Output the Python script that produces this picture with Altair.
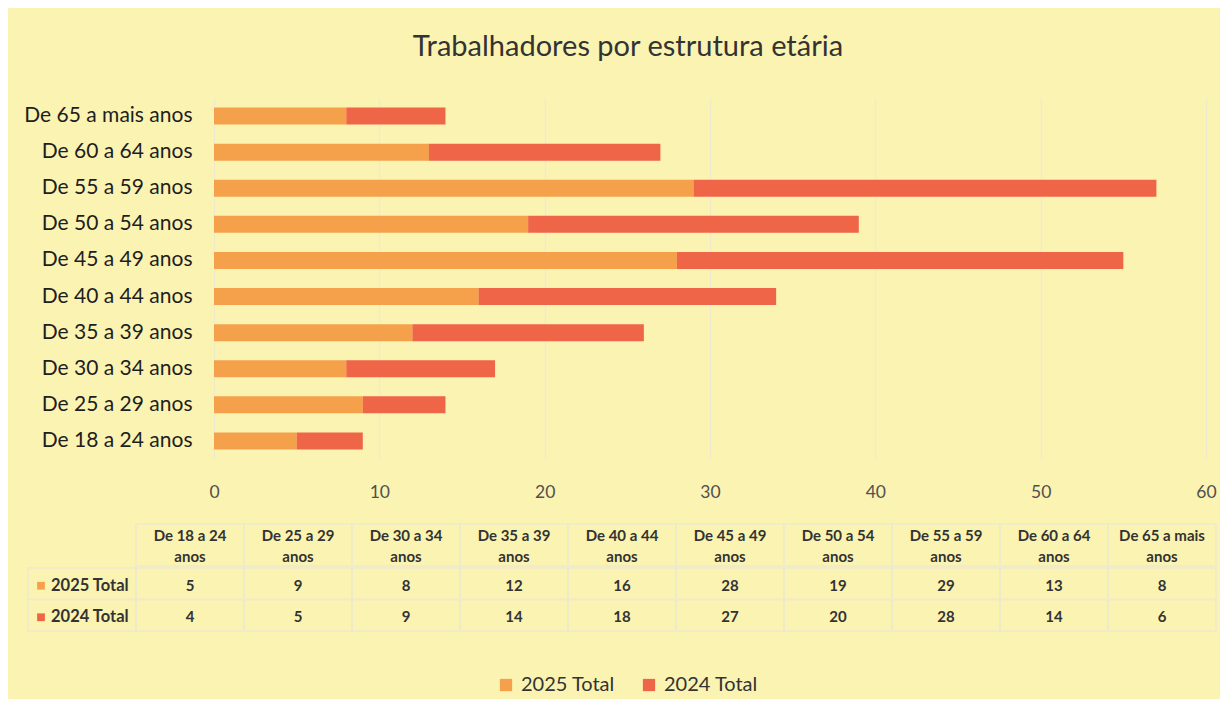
import altair as alt
import pandas as pd

# ---- data ----
categories = [
    "De 18 a 24 anos", "De 25 a 29 anos", "De 30 a 34 anos", "De 35 a 39 anos",
    "De 40 a 44 anos", "De 45 a 49 anos", "De 50 a 54 anos", "De 55 a 59 anos",
    "De 60 a 64 anos", "De 65 a mais anos",
]
series_names = ["2025 Total", "2024 Total"]
values_2025 = [5, 9, 8, 12, 16, 28, 19, 29, 13, 8]
values_2024 = [4, 5, 9, 14, 18, 27, 20, 28, 14, 6]
x_ticks = [0, 10, 20, 30, 40, 50, 60]
title_text = "Trabalhadores por estrutura etária"

# ---- styles ----
colors = ["#F5A14B", "#EF6548"]
BG = "#FBF3B2"
GRID = "#EEEACB"
FONT = "Lato"
LBL = "__rotulo__"

series_values = [values_2025, values_2024]

rows = []
for s_i, (s, vals) in enumerate(zip(series_names, series_values)):
    for c, v in zip(categories, vals):
        rows.append({"faixa": c, "serie": s, "valor": v, "ordem": s_i})
df = pd.DataFrame(rows)

bars = alt.Chart(df).mark_bar().encode(
    x=alt.X(
        "valor:Q", stack="zero",
        scale=alt.Scale(domain=[0, 60], nice=False),
        axis=alt.Axis(
            title=None, values=x_ticks, domain=False, ticks=False, tickSize=0,
            labelPadding=24, labelFontSize=17.5, labelColor="#505050", labelFlush=False,
            grid=True, gridColor=GRID, gridWidth=1.5,
        ),
    ),
    y=alt.Y(
        "faixa:N", sort=categories[::-1],
        scale=alt.Scale(paddingInner=0.53, paddingOuter=0.265),
        axis=alt.Axis(
            title=None, domain=False, ticks=False, tickSize=0, labelPadding=22,
            labelFontSize=21, labelColor="#1e1e1e", minExtent=193, maxExtent=193,
        ),
    ),
    color=alt.Color(
        "serie:N",
        scale=alt.Scale(domain=series_names, range=colors),
        legend=alt.Legend(
            title=None, orient="none", direction="horizontal",
            legendX=282, legendY=577,
            symbolType="square", symbolSize=150, symbolStrokeWidth=0,
            labelFontSize=20, labelColor="#333333", columnPadding=24, labelOffset=5,
        ),
    ),
    order=alt.Order("ordem:Q"),
).properties(width=992, height=361)

# ---- table (columns start left of the bar plot origin) ----
col_order = [LBL] + categories
tab_scale = alt.Scale(domain=col_order, paddingInner=0, paddingOuter=0, range=[-186, 1002])
x_tab = alt.X("col:N", sort=col_order, scale=tab_scale, axis=None)
x_tab_start = alt.X("col:N", sort=col_order, bandPosition=0, scale=tab_scale, axis=None)

header_rows = [{"col": c, "txt": c.rsplit(" ", 1)[0] + "\n" + c.rsplit(" ", 1)[1]} for c in categories]
header_df = pd.DataFrame(header_rows)

header_base = alt.Chart(header_df)
header = alt.layer(
    header_base.mark_rect(fill=None, stroke=GRID, strokeWidth=1.5).encode(x=x_tab),
    header_base.mark_text(fontSize=15, fontWeight="bold", color="#333333",
                          lineBreak="\n", lineHeight=21, baseline="middle").encode(
        x=x_tab, y=alt.value(12), text="txt:N"),
).properties(width=1002, height=42)

body_rows = []
for s, vals in zip(series_names, series_values):
    body_rows.append({"col": LBL, "serie": s, "txt": s, "tipo": "rotulo"})
    for c, v in zip(categories, vals):
        body_rows.append({"col": c, "serie": s, "txt": str(v), "tipo": "valor"})
body_df = pd.DataFrame(body_rows)

y_tab = alt.Y("serie:N", sort=series_names,
              scale=alt.Scale(domain=series_names, paddingInner=0, paddingOuter=0),
              axis=None)

body_base = alt.Chart(body_df)
body_layers = [
    body_base.mark_rect(fill=None, stroke=GRID, strokeWidth=1.5).encode(x=x_tab, y=y_tab),
    body_base.transform_filter("datum.tipo == 'valor'").mark_text(
        fontSize=15, fontWeight="bold", color="#333333", dy=2).encode(
        x=x_tab, y=y_tab, text="txt:N"),
    body_base.transform_filter("datum.tipo == 'rotulo'").mark_text(
        fontSize=16.5, fontWeight="bold", color="#333333", align="left", dx=23, dy=2).encode(
        x=x_tab_start, y=y_tab, text="txt:N"),
]
for s, col in zip(series_names, colors):
    body_layers.append(
        body_base.transform_filter(
            f"datum.tipo == 'rotulo' && datum.serie == '{s}'"
        ).mark_square(color=col, size=60, opacity=1, xOffset=13, yOffset=2).encode(
            x=x_tab_start, y=y_tab,
        )
    )
body = alt.layer(*body_layers).properties(width=1002, height=63)

table = alt.vconcat(header, body, spacing=0)

chart = alt.vconcat(bars, table, spacing=22).properties(
    title=alt.TitleParams(title_text, anchor="middle", fontSize=29, font=FONT,
                          fontWeight="normal", color="#333333", offset=36, dx=9),
    background=BG,
    padding={"left": 13, "top": 25, "right": 3, "bottom": 4},
).configure(font=FONT).configure_view(stroke=None).configure_axis(
    labelFont=FONT).configure_legend(labelFont=FONT)

chart.save("out.html", embed_options={"renderer": "svg", "actions": False})
